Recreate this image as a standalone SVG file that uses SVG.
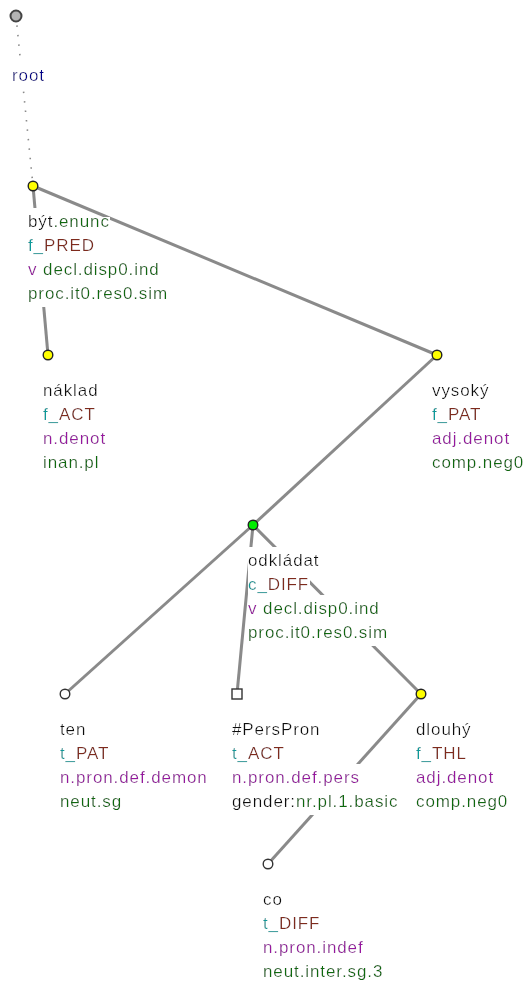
<svg xmlns="http://www.w3.org/2000/svg" width="531" height="987" viewBox="0 0 531 987">
<defs>
<filter id="bg" x="0" y="-0.16" width="1" height="1.32"><feFlood flood-color="#ffffff"/><feComposite in="SourceGraphic"/></filter>
<filter id="bg2" x="0" y="0.3" width="1" height="0.86"><feFlood flood-color="#ffffff"/><feComposite in="SourceGraphic"/></filter>
<style>
text{font-family:"Liberation Sans",Arial,sans-serif;font-size:17px;letter-spacing:0.9px}
.f{filter:url(#bg)}
.f2{filter:url(#bg2)}
.k{fill:#111}.g{fill:#0b6b0b}.t{fill:#109a9a}.b{fill:#7e2a1c}.p{fill:#97159f}.r{fill:#000088}
.e{stroke:#8a8a8a;stroke-width:3;fill:none}
.d{stroke:#8a8a8a;stroke-width:1.6;stroke-dasharray:1.5 8;fill:none}
.y{fill:#ffff00;stroke:#222;stroke-width:1.4}
.gr{fill:#00ee00;stroke:#222;stroke-width:1.4}
.w{fill:#fff;stroke:#333;stroke-width:1.4}
.rt{fill:#b4b4b4;stroke:#444;stroke-width:2}
</style>
</defs>
<rect width="531" height="987" fill="#fff"/>
<g id="edges">
<line class="d" x1="16" y1="16" x2="33" y2="186"/>
<line class="e" x1="33" y1="186" x2="48" y2="355"/>
<line class="e" x1="33" y1="186" x2="437" y2="355"/>
<line class="e" x1="437" y1="355" x2="253" y2="525"/>
<line class="e" x1="253" y1="525" x2="65" y2="694"/>
<line class="e" x1="253" y1="525" x2="237" y2="694"/>
<line class="e" x1="253" y1="525" x2="421" y2="694"/>
<line class="e" x1="421" y1="694" x2="268" y2="864"/>
</g>
<g id="node-root">
<circle class="rt" cx="16" cy="16" r="5.5"/>
<text x="12" y="81" class="r f">root</text>
</g>
<g id="node-byt">
<circle class="y" cx="33" cy="186" r="4.8"/>
<text x="28" y="227" class="k f">být</text>
<text x="53.4" y="227" class="g f2">.enunc</text>
<text x="28" y="251" class="f"><tspan class="t">f_</tspan><tspan class="b">PRED</tspan></text>
<text x="28" y="275" class="f"><tspan class="p">v</tspan><tspan class="g"> decl.disp0.ind</tspan></text>
<text x="28" y="299" class="g f">proc.it0.res0.sim</text>
</g>
<g id="node-naklad">
<circle class="y" cx="48" cy="355" r="4.8"/>
<text x="43" y="396" class="k f">náklad</text>
<text x="43" y="420" class="f"><tspan class="t">f_</tspan><tspan class="b">ACT</tspan></text>
<text x="43" y="444" class="p f">n.denot</text>
<text x="43" y="468" class="g f">inan.pl</text>
</g>
<g id="node-vysoky">
<circle class="y" cx="437" cy="355" r="4.8"/>
<text x="432" y="396" class="k f">vysoký</text>
<text x="432" y="420" class="f"><tspan class="t">f_</tspan><tspan class="b">PAT</tspan></text>
<text x="432" y="444" class="p f">adj.denot</text>
<text x="432" y="468" class="g f">comp.neg0</text>
</g>
<g id="node-odkladat">
<circle class="gr" cx="253" cy="525" r="4.8"/>
<text x="248" y="566" class="k f">odkládat</text>
<text x="248" y="590" class="f"><tspan class="t">c_</tspan><tspan class="b">DIFF</tspan></text>
<text x="248" y="614" class="f"><tspan class="p">v</tspan><tspan class="g"> decl.disp0.ind</tspan></text>
<text x="248" y="638" class="g f">proc.it0.res0.sim</text>
</g>
<g id="node-ten">
<circle class="w" cx="65" cy="694" r="4.8"/>
<text x="60" y="735" class="k f">ten</text>
<text x="60" y="759" class="f"><tspan class="t">t_</tspan><tspan class="b">PAT</tspan></text>
<text x="60" y="783" class="p f">n.pron.def.demon</text>
<text x="60" y="807" class="g f">neut.sg</text>
</g>
<g id="node-perspron">
<rect class="w" x="232" y="689" width="10" height="10"/>
<text x="232" y="735" class="k f">#PersPron</text>
<text x="232" y="759" class="f"><tspan class="t">t_</tspan><tspan class="b">ACT</tspan></text>
<text x="232" y="783" class="p f">n.pron.def.pers</text>
<text x="232" y="807" class="f"><tspan class="k">gender:</tspan><tspan class="g">nr.pl.1.basic</tspan></text>
</g>
<g id="node-dlouhy">
<circle class="y" cx="421" cy="694" r="4.8"/>
<text x="416" y="735" class="k f">dlouhý</text>
<text x="416" y="759" class="f"><tspan class="t">f_</tspan><tspan class="b">THL</tspan></text>
<text x="416" y="783" class="p f">adj.denot</text>
<text x="416" y="807" class="g f">comp.neg0</text>
</g>
<g id="node-co">
<circle class="w" cx="268" cy="864" r="4.8"/>
<text x="263" y="905" class="k f">co</text>
<text x="263" y="929" class="f"><tspan class="t">t_</tspan><tspan class="b">DIFF</tspan></text>
<text x="263" y="953" class="p f">n.pron.indef</text>
<text x="263" y="977" class="g f">neut.inter.sg.3</text>
</g>
</svg>
